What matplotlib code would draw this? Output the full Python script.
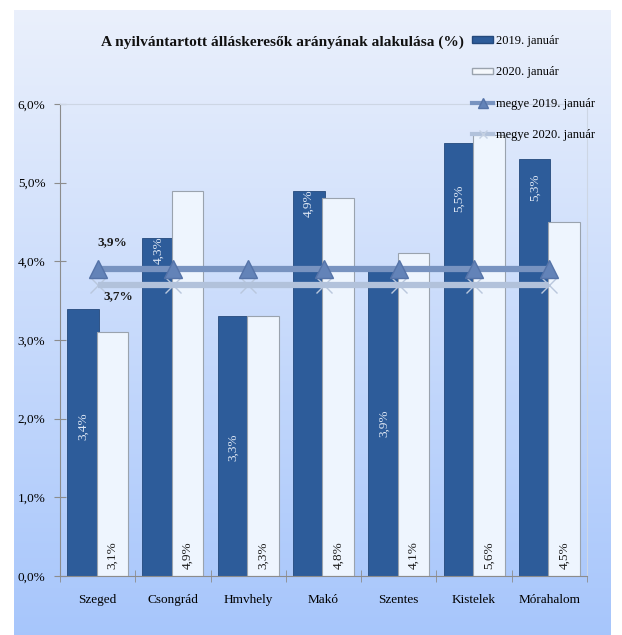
import numpy as np
import matplotlib
matplotlib.use("Agg")
import matplotlib.pyplot as plt
from matplotlib.lines import Line2D
from matplotlib.patches import Patch

# ---------------------------------------------------------------------------
# Data
# ---------------------------------------------------------------------------
categories = ["Szeged", "Csongrád", "Hmvhely", "Makó", "Szentes", "Kistelek", "Mórahalom"]
jan_2019 = [3.4, 4.3, 3.3, 4.9, 3.9, 5.5, 5.3]
jan_2020 = [3.1, 4.9, 3.3, 4.8, 4.1, 5.6, 4.5]
megye_2019 = 3.9
megye_2020 = 3.7
series_names = ["2019. január", "2020. január", "megye 2019. január", "megye 2020. január"]
title = "A nyilvántartott álláskeresők arányának alakulása (%)"
yticks = [0, 1, 2, 3, 4, 5, 6]

# where Excel put the in-bar labels of the dark series (data units)
label_y_2019 = [1.9, 4.14, 1.64, 4.74, 1.94, 4.8, 4.94]
label_y_2020 = 0.27

plt.rcParams["font.family"] = ["Liberation Serif", "DejaVu Serif"]

W, H = 622, 635
fig = plt.figure(figsize=(W / 100, H / 100), dpi=100, facecolor="white")

# gradient panel behind the chart
bg = fig.add_axes([14 / W, 0, 597 / W, 625 / H], zorder=0)
grad = np.linspace(0, 1, 256)[:, None]
top_c = np.array([0.918, 0.941, 0.988])
bot_c = np.array([0.655, 0.776, 0.988])
img = top_c[None, None, :] * (1 - grad[:, :, None]) + bot_c[None, None, :] * grad[:, :, None]
bg.imshow(img, aspect="auto", extent=[0, 1, 0, 1])
bg.set_axis_off()

ax = fig.add_axes([60 / W, 59 / H, 527 / W, 472 / H], zorder=1)
ax.patch.set_alpha(0)

x = np.arange(len(categories))
off, bw = 0.195, 0.42

dark = "#2d5c9a"
ax.bar(x - off, jan_2019, bw, color=dark, edgecolor="#24497c", linewidth=0.6, zorder=2)
ax.bar(x + off, jan_2020, bw, color="#eef5fe", edgecolor="#9aa3ae", linewidth=0.8, zorder=2)

# county averages (the x markers of 2020 sit half hidden behind its line)
ax.plot(x, [megye_2020] * len(x), linestyle="none", marker="x", ms=12,
        mec="#b9c7dd", mew=1, zorder=2.5)
ax.plot(x, [megye_2020] * len(x), color="#b2c2db", lw=4.5, zorder=3,
        solid_capstyle="butt")
ax.plot(x, [megye_2019] * len(x), color="#7893c0", lw=4.5, marker="^", ms=13,
        mfc="#6383b8", mec="#5573a8", zorder=4, solid_capstyle="butt")

for xi, v, ly in zip(x, jan_2019, label_y_2019):
    ax.text(xi - off, ly, f"{v:.1f}%".replace(".", ","), rotation=90, ha="center",
            va="center", fontsize=9.5, color="#dfe8f5", zorder=5)
for xi, v in zip(x, jan_2020):
    ax.text(xi + off, label_y_2020, f"{v:.1f}%".replace(".", ","), rotation=90,
            ha="center", va="center", fontsize=9.5, color="#1c1c1c", zorder=5)

ax.text(0.19, 4.24, f"{megye_2019:.1f}%".replace(".", ","), ha="center", va="center",
        fontsize=9.5, fontweight="bold", color="#1c1c1c", zorder=5)
ax.text(0.28, 3.56, f"{megye_2020:.1f}%".replace(".", ","), ha="center", va="center",
        fontsize=9.5, fontweight="bold", color="#1c1c1c", zorder=5)

ax.set_xlim(-0.5, len(categories) - 0.5)
ax.set_ylim(0, 6)
ax.set_yticks(yticks)
ax.set_yticklabels([f"{t:.1f}%".replace(".", ",") for t in yticks], fontsize=9.5)
ax.set_xticks(x)
ax.set_xticklabels(categories, fontsize=9.5)
ax.set_xticks(np.arange(-0.5, len(categories), 1), minor=True)
ax.tick_params(axis="x", which="major", length=0, pad=13)
ax.tick_params(axis="x", which="minor", length=8, direction="inout", color="#8c8c8c")
ax.tick_params(axis="y", length=9, direction="inout", color="#8c8c8c", pad=6)
for s in ["left", "bottom"]:
    ax.spines[s].set_color("#8c8c8c")
for s in ["top", "right"]:
    ax.spines[s].set_color("#cdd6e4")
    ax.spines[s].set_linewidth(0.8)

fig.text(282 / W, 1 - 42 / H, title, ha="center", va="center", fontsize=11.1,
         fontweight="bold", color="#111111")

handles = [
    Patch(facecolor=dark, edgecolor="#24497c"),
    Patch(facecolor="#f5f8fc", edgecolor="#9aa3ae"),
    Line2D([], [], color="#7893c0", lw=3, marker="^", ms=7, mfc="#6383b8", mec="#5573a8"),
    Line2D([], [], color="#b2c2db", lw=3, marker="x", ms=6, mec="#c4d0e2"),
]
fig.legend(handles, series_names, loc="upper left", bbox_to_anchor=(472 / W, 1 - 35 / H),
           frameon=False, fontsize=9, handlelength=1.7, handleheight=0.4,
           handletextpad=0.2, labelspacing=1.55, borderpad=0, borderaxespad=0)

fig.savefig("out.png", dpi=100, facecolor="white")
